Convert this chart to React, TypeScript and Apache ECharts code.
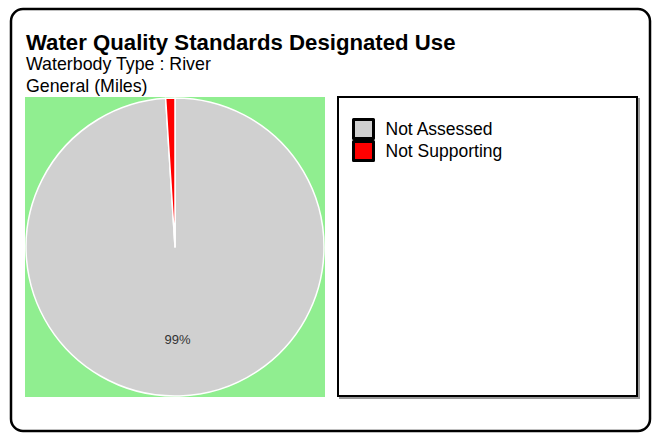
import React, { useEffect, useRef } from "react";
import * as echarts from "echarts";

const titleText = "Water Quality Standards Designated Use";
const subtitleLines = ["Waterbody Type : River", "General (Miles)"];
const categories = ["Not Assessed", "Not Supporting"];
const values = [99.0, 1.0];
const colors = ["#D0D0D0", "#FF0000"];

export default function App() {
  const ref = useRef<HTMLDivElement>(null);
  useEffect(() => {
    document.body.style.margin = "0";
    const chart = echarts.init(ref.current!, null, { renderer: "svg" });
    const font = "'Liberation Sans', Arial, sans-serif";
    const option: any = {
      animation: false,
      backgroundColor: "#fff",
      graphic: [
        {
          type: "rect",
          shape: { x: 11, y: 9, width: 639, height: 422, r: 12 },
          style: { fill: "#fff", stroke: "#000", lineWidth: 2.5 },
          z: 0,
        },
        {
          type: "text",
          x: 26,
          y: 31,
          style: { text: titleText, font: `bold 22.2px ${font}`, fill: "#000" },
        },
        {
          type: "text",
          x: 26,
          y: 55,
          style: { text: subtitleLines[0], font: `17.8px ${font}`, fill: "#000" },
        },
        {
          type: "text",
          x: 26,
          y: 77,
          style: { text: subtitleLines[1], font: `17.8px ${font}`, fill: "#000" },
        },
        {
          type: "rect",
          shape: { x: 25, y: 97, width: 300, height: 300 },
          style: { fill: "#90EE90" },
          z: 0,
        },
        {
          type: "rect",
          shape: { x: 340, y: 99, width: 299, height: 299 },
          style: { fill: "none", stroke: "#999", lineWidth: 2 },
          z: 0,
        },
        {
          type: "rect",
          shape: { x: 338, y: 97, width: 299, height: 299 },
          style: { fill: "#fff", stroke: "#000", lineWidth: 2 },
          z: 1,
        },
      ],
      legend: {
        orient: "vertical",
        left: 352,
        top: 118,
        padding: 0,
        itemGap: 0,
        itemWidth: 20,
        itemHeight: 19,
        icon: "rect",
        itemStyle: { borderColor: "#000", borderWidth: 3 },
        textStyle: {
          fontSize: 17.5,
          lineHeight: 21,
          fontFamily: font,
          color: "#000",
          padding: [0, 0, 0, 7],
        },
        data: categories,
        z: 5,
      },
      series: [
        {
          type: "pie",
          center: [175, 247],
          radius: 149,
          startAngle: 90,
          clockwise: true,
          z: 3,
          itemStyle: { borderColor: "#fff", borderWidth: 1.5 },
          label: {
            show: true,
            position: "inside",
            offset: [0, 15],
            fontSize: 13,
            fontFamily: font,
            color: "#333",
            formatter: (p: any) => Math.round(p.percent) + "%",
          },
          emphasis: { disabled: true },
          data: categories.map((c, i) => ({
            name: c,
            value: values[i],
            itemStyle: { color: colors[i] },
            label: { show: i === 0 },
          })),
        },
      ],
    };
    chart.setOption(option);
    return () => chart.dispose();
  }, []);
  return <div ref={ref} style={{ width: 656, height: 433 }} />;
}
